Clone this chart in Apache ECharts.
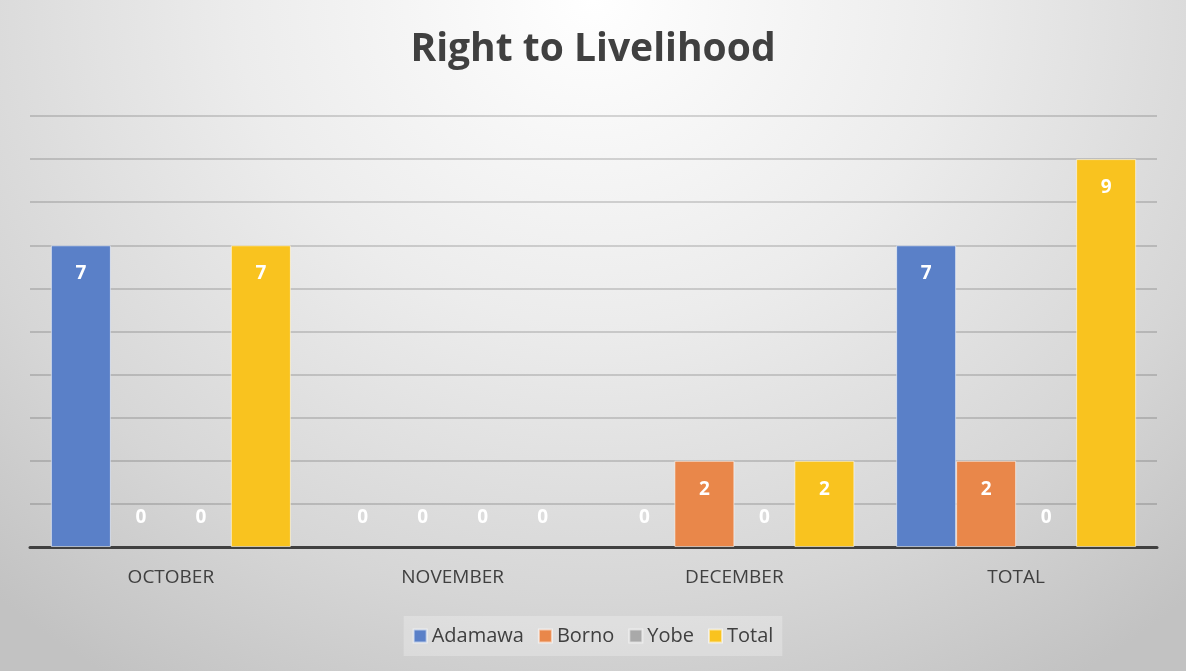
<!DOCTYPE html>
<html>
<head>
<meta charset="utf-8">
<script src="https://cdn.jsdelivr.net/npm/echarts@6/dist/echarts.min.js"></script>
<style>
  html, body { margin: 0; padding: 0; }
  #chart {
    width: 1186px;
    height: 671px;
    background: radial-gradient(ellipse 75% 120% at 50% 0%, #ffffff 0%, #ececec 40%, #d6d6d6 75%, #c2c2c2 100%);
  }
</style>
</head>
<body>
<div id="chart"></div>
<script>
const categories = ['OCTOBER', 'NOVEMBER', 'DECEMBER', 'TOTAL']
const adamawa = [7, 0, 0, 7]
const borno = [0, 0, 2, 2]
const yobe = [0, 0, 0, 0]
const total = [7, 0, 2, 9]

const colors = ['#5a80c8', '#e9874a', '#a9a9a9', '#f9c31f']

// zero bars: label above the axis and no border over the axis line
function withLabels (values) {
  return values.map(v => v === 0
    ? { value: v, itemStyle: { borderWidth: 0 }, label: { position: 'top', distance: 20 } }
    : v)
}

function makeSeries (name, values, color) {
  return {
    name: name,
    type: 'bar',
    barWidth: 60,
    barGap: '0%',
    itemStyle: {
      color: color,
      borderColor: 'rgba(255,255,255,0.55)',
      borderWidth: 1
    },
    label: {
      show: true,
      position: 'insideTop',
      distance: 19,
      color: '#ffffff',
      fontWeight: 'bold',
      fontSize: 19,
      fontFamily: 'Open Sans'
    },
    data: withLabels(values)
  }
}

const chart = echarts.init(document.getElementById('chart'))
chart.setOption({
  backgroundColor: 'transparent',
  color: colors,
  title: {
    text: 'Right to Livelihood',
    left: 'center',
    top: 25,
    textStyle: {
      fontFamily: 'Open Sans',
      fontWeight: 'bold',
      fontSize: 39,
      color: '#404040'
    }
  },
  legend: {
    bottom: 15,
    left: 'center',
    icon: 'rect',
    itemWidth: 13,
    itemHeight: 13,
    itemGap: 14,
    padding: [10, 9],
    backgroundColor: 'rgba(255,255,255,0.25)',
    textStyle: {
      fontFamily: 'Open Sans',
      fontSize: 20,
      color: '#404040'
    },
    data: ['Adamawa', 'Borno', 'Yobe', 'Total']
  },
  grid: {
    left: 30,
    right: 29,
    top: 116,
    bottom: 124
  },
  xAxis: {
    type: 'category',
    data: categories,
    axisLine: { lineStyle: { color: '#404040', width: 3 } },
    axisTick: { show: false },
    axisLabel: {
      margin: 21,
      fontFamily: 'Open Sans',
      fontSize: 19,
      color: '#404040'
    }
  },
  yAxis: {
    type: 'value',
    min: 0,
    max: 10,
    interval: 1,
    axisLabel: { show: false },
    axisLine: { show: false },
    axisTick: { show: false },
    splitLine: { lineStyle: { color: 'rgba(0,0,0,0.2)', width: 1.5 } }
  },
  series: [
    makeSeries('Adamawa', adamawa, colors[0]),
    makeSeries('Borno', borno, colors[1]),
    makeSeries('Yobe', yobe, colors[2]),
    makeSeries('Total', total, colors[3])
  ]
})
</script>
</body>
</html>
